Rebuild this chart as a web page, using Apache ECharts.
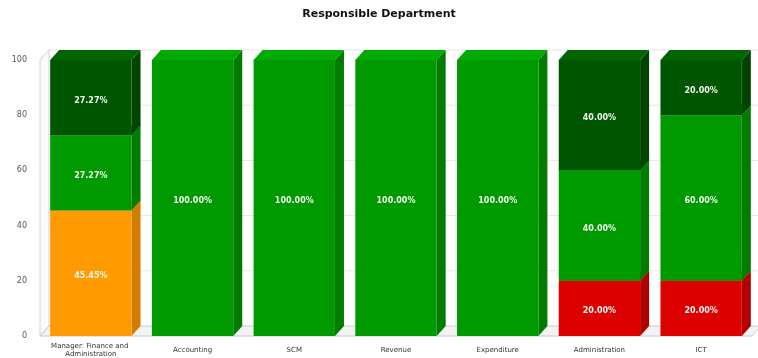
<!DOCTYPE html>
<html>
<head>
<meta charset="utf-8">
<script src="https://cdn.jsdelivr.net/npm/echarts@6/dist/echarts.min.js"></script>
<style>
  html, body { margin: 0; padding: 0; background: #ffffff; }
  #chart { width: 758px; height: 358px; }
</style>
</head>
<body>
<div id="chart"></div>
<script>
// Departments and the share (%) of each status per department
const categories = ['Manager: Finance and Administration', 'Accounting', 'SCM', 'Revenue', 'Expenditure', 'Administration', 'ICT'];
const orangeValues = [45.45, 0, 0, 0, 0, 0, 0];
const redValues = [0, 0, 0, 0, 0, 20, 20];
const greenValues = [27.27, 100, 100, 100, 100, 40, 60];
const darkGreenValues = [27.27, 0, 0, 0, 0, 40, 20];
const yTicks = [0, 20, 40, 60, 80, 100];

// Faces of each stacked layer: front, side, top
const layers = [
  { name: 'Orange', values: orangeValues, front: '#ff9a00', side: '#d27c00', top: '#ffb23a' },
  { name: 'Red', values: redValues, front: '#dd0000', side: '#b10000', top: '#f02222' },
  { name: 'Green', values: greenValues, front: '#009a00', side: '#007d00', top: '#00aa00' },
  { name: 'Dark Green', values: darkGreenValues, front: '#005600', side: '#004400', top: '#006400' }
];

// 3D depth offset of the bars and the back wall
const DX = 9, DY = 10;

// Cumulative stacking bases
const running = categories.map(() => 0);
const stacked = layers.map(layer => {
  return layer.values.map((v, i) => {
    const base = running[i];
    running[i] += v;
    return [i, base, base + v, v];
  });
});

function barRenderer(layer) {
  return function (params, api) {
    const val = api.value(3);
    if (!(val > 0)) return null;
    const i = api.value(0);
    const p0 = api.coord([i, api.value(1)]);
    const p1 = api.coord([i, api.value(2)]);
    const w = api.size([1, 0])[0] * 0.8;
    const xl = p0[0] - w / 2, xr = p0[0] + w / 2;
    const yb = p0[1], yt = p1[1];
    return {
      type: 'group',
      children: [
        { type: 'polygon', shape: { points: [[xr, yb], [xr + DX, yb - DY], [xr + DX, yt - DY], [xr, yt]] },
          style: { fill: layer.side } },
        { type: 'polygon', shape: { points: [[xl, yt], [xl + DX, yt - DY], [xr + DX, yt - DY], [xr, yt]] },
          style: { fill: layer.top } },
        { type: 'rect', shape: { x: xl, y: yt, width: w, height: yb - yt },
          style: { fill: layer.front } },
        { type: 'text', z2: 10,
          style: { text: val.toFixed(2) + '%', x: (xl + xr) / 2, y: (yt + yb) / 2 + 3,
                   align: 'center', verticalAlign: 'middle', fill: '#eef6ee',
                   fontFamily: 'DejaVu Sans', fontSize: 8, fontWeight: 'bold' } }
      ]
    };
  };
}

// Floor, left wall and back grid lines
function frameRenderer(params, api) {
  const cs = params.coordSys;
  const x0 = cs.x, x1 = cs.x + cs.width;
  const children = [];
  const y0 = api.coord([0, 0])[1];
  const y100 = api.coord([0, 100])[1];
  yTicks.forEach(v => {
    const y = api.coord([0, v])[1];
    if (v > 0) {
      children.push({ type: 'line', shape: { x1: x0 + DX, y1: y - DY, x2: x1 + DX, y2: y - DY },
        style: { stroke: '#e6e6e6', lineWidth: 1 } });
      children.push({ type: 'line', shape: { x1: x0, y1: y, x2: x0 + DX, y2: y - DY },
        style: { stroke: '#ececec', lineWidth: 1 } });
    }
  });
  // left wall
  children.push({ type: 'polygon', shape: { points: [[x0, y0], [x0 + DX, y0 - DY], [x0 + DX, y100 - DY], [x0, y100]] },
    style: { fill: '#fbfbfb', stroke: '#d4d4d4', lineWidth: 1 } });
  // floor
  children.push({ type: 'polygon', shape: { points: [[x0, y0], [x0 + DX, y0 - DY], [x1 + DX, y0 - DY], [x1, y0]] },
    style: { fill: '#f3f3f3', stroke: '#cccccc', lineWidth: 1 } });
  return { type: 'group', children: children };
}

const chart = echarts.init(document.getElementById('chart'), null, { renderer: 'canvas' });
chart.setOption({
  backgroundColor: '#ffffff',
  animation: false,
  title: {
    text: 'Responsible Department',
    left: 'center',
    top: 4,
    textStyle: { fontFamily: 'DejaVu Sans', fontSize: 11, fontWeight: 'bold', color: '#111' }
  },
  grid: { left: 40, right: 6, top: 60, bottom: 21 },
  xAxis: {
    type: 'category',
    data: categories,
    axisLine: { show: false },
    axisTick: { show: false },
    axisLabel: {
      interval: 0, margin: 14, verticalAlign: 'middle',
      fontFamily: 'DejaVu Sans', fontSize: 7, color: '#333', lineHeight: 8,
      width: 92, overflow: 'break'
    }
  },
  yAxis: {
    type: 'value', min: 0, max: 100, interval: 20,
    axisLine: { show: false },
    axisTick: { show: false },
    splitLine: { show: false },
    axisLabel: { margin: 13, fontFamily: 'DejaVu Sans', fontSize: 8, color: '#555' }
  },
  series: [
    { type: 'custom', name: 'frame', renderItem: frameRenderer, data: [[0, 0]], silent: true, z: 1 }
  ].concat(layers.map((layer, k) => ({
    type: 'custom',
    name: layer.name,
    renderItem: barRenderer(layer),
    encode: { x: 0, y: 2 },
    data: stacked[k],
    z: 2 + k
  })))
});
</script>
</body>
</html>
